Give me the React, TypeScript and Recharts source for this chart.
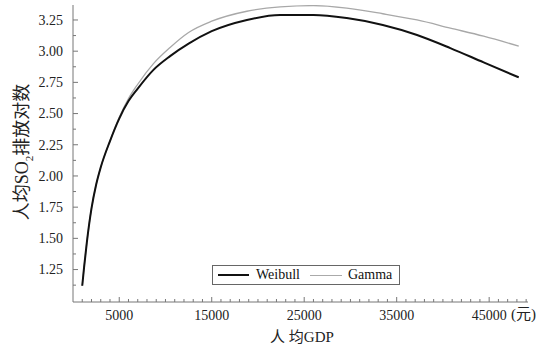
import React from 'react';
import { LineChart, Line, XAxis, YAxis, Customized } from 'recharts';

const gdp = [1000, 1200, 1500, 2000, 2500, 3000, 4000, 5000, 6000, 7000, 8700, 10500, 12500, 15000, 18800, 22400, 26000, 29600, 33500, 37200, 40800, 44400, 48200];
const weibull = [1.12, 1.27, 1.47, 1.74, 1.93, 2.07, 2.28, 2.46, 2.6, 2.7, 2.85, 2.96, 3.06, 3.16, 3.25, 3.29, 3.29, 3.265, 3.21, 3.13, 3.025, 2.91, 2.79];
const gamma = [1.12, 1.27, 1.47, 1.74, 1.93, 2.07, 2.28, 2.47, 2.62, 2.735, 2.9, 3.03, 3.15, 3.24, 3.32, 3.355, 3.365, 3.345, 3.3, 3.25, 3.185, 3.12, 3.04];

const xMajorTicks = [5000, 15000, 25000, 35000, 45000];
const yMajorTicks = [1.25, 1.5, 1.75, 2.0, 2.25, 2.5, 2.75, 3.0, 3.25];
const yMinorTicks = [1.125, 1.375, 1.625, 1.875, 2.125, 2.375, 2.625, 2.875, 3.125];
const xMinorTicks = Array.from({ length: 49 }, (_, i) => (i + 1) * 1000);

const data = gdp.map((g, i) => ({ gdp: g, Weibull: weibull[i], Gamma: gamma[i] }));

const FONT = '"Liberation Serif", "Times New Roman", serif';
const CJK = '"Liberation Serif", "Noto Sans CJK SC", serif';
const AXIS = '#777';

const XTick = (props: any) => {
  const { x, y, payload } = props;
  const v = payload.value;
  const major = xMajorTicks.includes(v);
  return (
    <g>
      <line x1={x} x2={x} y1={y} y2={y - (major ? 5 : 3)} stroke={AXIS} strokeWidth={1} />
      {major && (
        <text x={x} y={y + 18} textAnchor="middle" fontFamily={FONT} fontSize={14} fill="#222">
          {v}
        </text>
      )}
    </g>
  );
};

const YTick = (props: any) => {
  const { x, y, payload } = props;
  const v = payload.value;
  const major = yMajorTicks.some((m) => Math.abs(m - v) < 1e-6);
  return (
    <g>
      <line x1={x} x2={x + (major ? 5 : 3)} y1={y} y2={y} stroke={AXIS} strokeWidth={1} />
      {major && (
        <text x={x - 10} y={y} dy="0.35em" textAnchor="end" fontFamily={FONT} fontSize={14} fill="#222">
          {v.toFixed(2)}
        </text>
      )}
    </g>
  );
};

const Titles = () => (
  <g>
    <text
      transform="translate(28,152) rotate(-90)"
      textAnchor="middle"
      fontFamily={CJK}
      fontSize={18}
      fill="#222"
    >
      人均SO<tspan fontSize={11} dy={5}>2</tspan><tspan dy={-5}>排放对数</tspan>
    </text>
    <text x={302} y={342} textAnchor="middle" fontFamily={CJK} fontSize={15} fill="#222">
      人 均GDP
    </text>
    <text x={511} y={319} fontFamily={CJK} fontSize={15} fill="#222">
      (元)
    </text>
  </g>
);

const LegendBox = () => (
  <div
    style={{
      position: 'absolute',
      left: 212,
      top: 265,
      border: '1px solid #666',
      width: 186,
      height: 18,
      display: 'flex',
      alignItems: 'center',
      fontFamily: FONT,
      fontSize: 14,
      color: '#111',
      boxSizing: 'content-box',
      background: '#fff',
    }}
  >
    <span style={{ display: 'inline-block', width: 31, height: 2, background: '#111', marginLeft: 5 }} />
    <span style={{ marginLeft: 7 }}>Weibull</span>
    <span style={{ display: 'inline-block', width: 32, height: 1, background: '#aaa', marginLeft: 10 }} />
    <span style={{ marginLeft: 6 }}>Gamma</span>
  </div>
);

export default function App() {
  return (
    <div style={{ position: 'absolute', left: 0, top: 0, width: 547, height: 348, background: '#fff' }}>
      <LineChart width={547} height={348} data={data} margin={{ top: 5, right: 19, bottom: 0, left: 0 }}>
        <XAxis
          dataKey="gdp"
          type="number"
          domain={[0, 49200]}
          ticks={xMinorTicks}
          interval={0}
          height={46}
          tickSize={0}
          tickMargin={0}
          tickLine={false}
          axisLine={{ stroke: AXIS }}
          tick={(p: any) => <XTick {...p} />}
          allowDataOverflow
        />
        <XAxis xAxisId="top" orientation="top" dataKey="gdp" type="number" domain={[0, 49200]} height={0} tick={false} tickLine={false} axisLine={{ stroke: AXIS }} />
        <YAxis
          type="number"
          domain={[0.99, 3.37]}
          ticks={[...yMinorTicks, ...yMajorTicks].sort((a, b) => a - b)}
          interval={0}
          width={73}
          tickSize={0}
          tickMargin={0}
          tickLine={false}
          axisLine={{ stroke: AXIS }}
          tick={(p: any) => <YTick {...p} />}
          allowDataOverflow
        />
        <YAxis yAxisId="right" orientation="right" domain={[0.99, 3.37]} width={0} tick={false} tickLine={false} axisLine={{ stroke: AXIS }} />
        <Line type="monotone" dataKey="Gamma" stroke="#a8a8a8" strokeWidth={1.3} dot={false} isAnimationActive={false} />
        <Line type="monotone" dataKey="Weibull" stroke="#111" strokeWidth={2} dot={false} isAnimationActive={false} />
        <Customized component={Titles} />
      </LineChart>
      <LegendBox />
    </div>
  );
}
